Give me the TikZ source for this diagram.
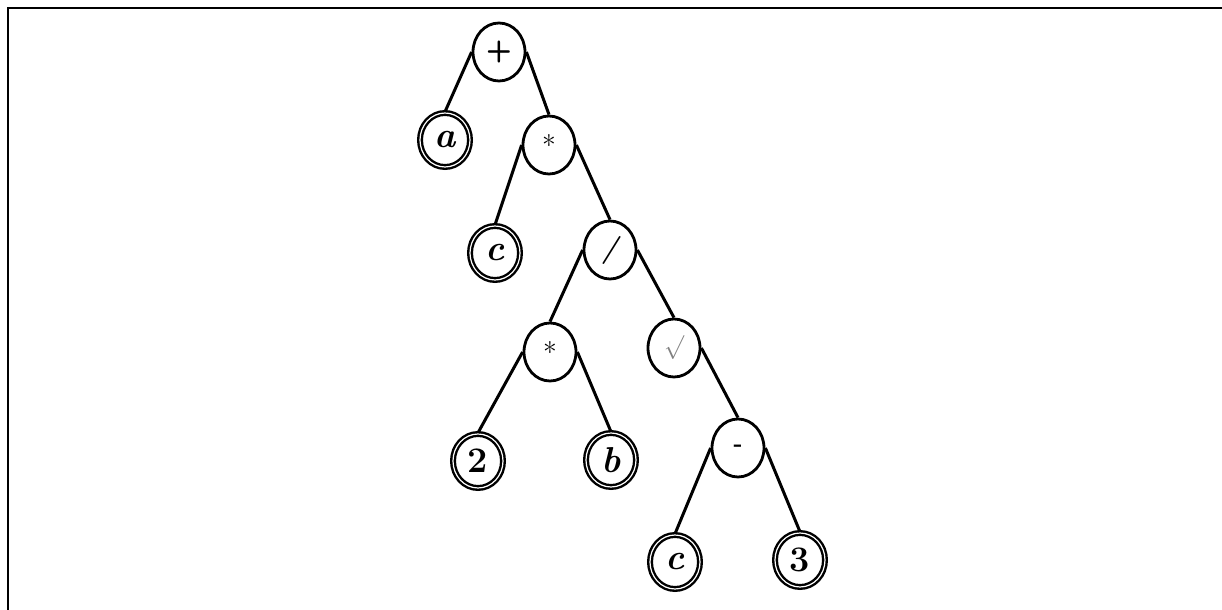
\documentclass[tikz,border=0pt]{standalone}
\usepackage{xcolor}
\usepackage{tikz}
\usetikzlibrary{shapes.geometric}
\begin{document}
\begin{tikzpicture}[x=0.5pt,y=-0.5pt,
  op/.style={ellipse,draw,line width=1.4pt,minimum width=26pt,minimum height=29pt,inner sep=0pt,font=\fontsize{11}{12}\selectfont},
  leaf/.style={ellipse,draw,double,double distance=0.6pt,line width=1.2pt,minimum width=25pt,minimum height=27pt,inner sep=0pt,font=\fontsize{18}{20}\selectfont\bfseries},
  branch/.style={line width=1.5pt}]
\useasboundingbox (0,0) rectangle (1222,610);
\draw[line width=1pt] (8,610) -- (8,8) -- (1222,8);
% operators
\node[op,font=\fontsize{15}{16}\selectfont\sffamily\bfseries] (plus) at (499,52) {+};
\node[op,font=\fontsize{14}{15}\selectfont] (times) at (549,145) {*};
\node[op,font=\fontsize{14}{15}\selectfont\bfseries\itshape] (div) at (610,250) {/};
\node[op,font=\fontsize{14}{15}\selectfont] (times2) at (550,352) {*};
\node[op,font=\fontsize{13}{14}\selectfont] (sqrt) at (674,348) {\textcolor{gray}{$\surd$}};
\node[op,font=\fontsize{12}{13}\selectfont\bfseries] (minus) at (738,448) {-};
% leaves
\node[leaf] (a) at (445,140) {\itshape a};
\node[leaf] (c1) at (495,253) {\itshape c};
\node[leaf] (two) at (478,461) {2};
\node[leaf] (b) at (611,460) {\itshape b};
\node[leaf] (c2) at (675,562) {\itshape c};
\node[leaf] (three) at (800,560) {3};
% branches
\draw[branch] (plus.west) -- (a.north);
\draw[branch] (plus.east) -- (times.north);
\draw[branch] (times.west) -- (c1.north);
\draw[branch] (times.east) -- (div.north);
\draw[branch] (div.west) -- (times2.north);
\draw[branch] (div.east) -- (sqrt.north);
\draw[branch] (times2.west) -- (two.north);
\draw[branch] (times2.east) -- (b.north);
\draw[branch] (sqrt.east) -- (minus.north);
\draw[branch] (minus.west) -- (c2.north);
\draw[branch] (minus.east) -- (three.north);
\end{tikzpicture}
\end{document}
